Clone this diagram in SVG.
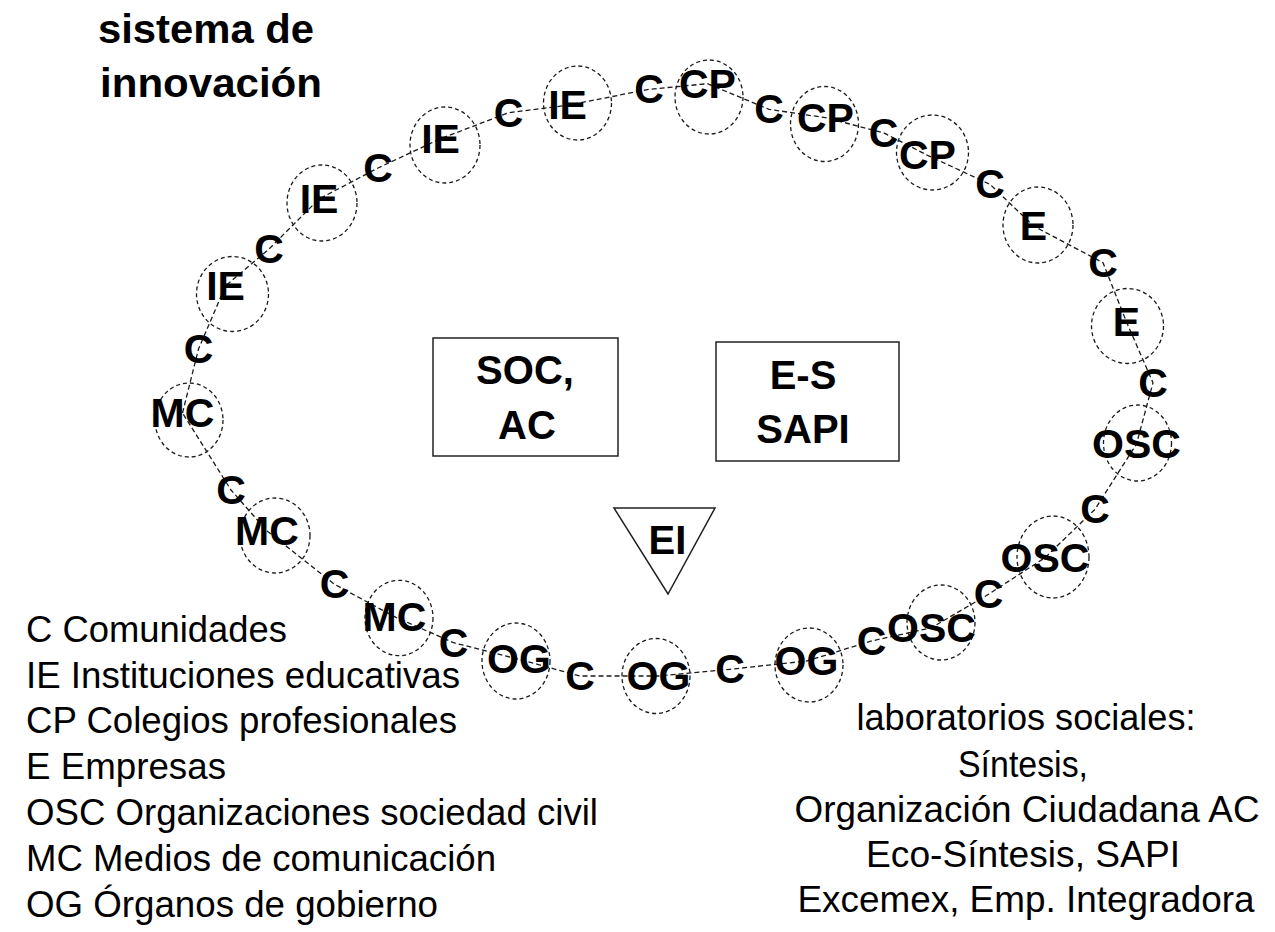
<svg xmlns="http://www.w3.org/2000/svg" width="1275" height="932" viewBox="0 0 1275 932">
<style>
.lbl{font-family:"Liberation Sans",Arial,sans-serif;font-weight:bold;font-size:41px;fill:#000;text-anchor:middle}
.blbl{font-family:"Liberation Sans",Arial,sans-serif;font-weight:bold;font-size:40px;fill:#000;text-anchor:middle}
.ring{fill:none;stroke:#1a1a1a;stroke-width:1.3;stroke-dasharray:4 3}
.chain{fill:none;stroke:#1a1a1a;stroke-width:1.3;stroke-dasharray:5 3}
.box{fill:#fff;stroke:#222;stroke-width:1.5}
.title{font-family:"Liberation Sans",Arial,sans-serif;font-weight:bold;font-size:40px;fill:#000}
.leg{font-family:"Liberation Sans",Arial,sans-serif;font-size:36px;fill:#000}
.labs{font-family:"Liberation Sans",Arial,sans-serif;font-size:36px;fill:#000;text-anchor:middle}
</style>
<rect width="1275" height="932" fill="#fff"/>
<g id="title">
<text class="title" x="98" y="43" textLength="216" lengthAdjust="spacingAndGlyphs">sistema de</text>
<text class="title" x="100" y="97" textLength="222" lengthAdjust="spacingAndGlyphs">innovación</text>
</g>
<g id="connectors">
<polyline class="chain" points="182.5,413 198.5,349 225.5,286 269,249 319,199 378,168 440.5,138.7 508.5,112.7 567.5,105.3 649,89.3 707.5,83.7 769,109.3 825.5,117.7 883.5,132.7 927.5,155.3 990,184.3 1033.5,226 1103,262.7 1126.5,322 1153,382.7 1136.5,444 1095,509.3 1045,557.7 988.5,594.3 931.5,627.7 871.5,641 806.5,661 730,669.3 658.5,676 580,676 519,659.3 453.5,642.7 394.5,616.7 334.5,584.3 267,531 231,490 182.5,413"/>
</g>
<g id="circles">
<ellipse class="ring" cx="189" cy="420" rx="34" ry="37"/>
<ellipse class="ring" cx="232.5" cy="294" rx="36" ry="37.5"/>
<ellipse class="ring" cx="322" cy="203" rx="35" ry="38"/>
<ellipse class="ring" cx="445" cy="145" rx="35" ry="38"/>
<ellipse class="ring" cx="577.5" cy="103" rx="34" ry="37"/>
<ellipse class="ring" cx="709" cy="97" rx="34" ry="37"/>
<ellipse class="ring" cx="824.5" cy="124" rx="34" ry="37.5"/>
<ellipse class="ring" cx="932.5" cy="152.5" rx="36" ry="37.5"/>
<ellipse class="ring" cx="1038" cy="225" rx="35" ry="38"/>
<ellipse class="ring" cx="1127.5" cy="326" rx="36" ry="37.5"/>
<ellipse class="ring" cx="1137.5" cy="443" rx="34" ry="38"/>
<ellipse class="ring" cx="1053" cy="557" rx="36" ry="41"/>
<ellipse class="ring" cx="941" cy="622.5" rx="34" ry="37.5"/>
<ellipse class="ring" cx="809" cy="665" rx="34" ry="37"/>
<ellipse class="ring" cx="656" cy="676" rx="34" ry="37.5"/>
<ellipse class="ring" cx="516" cy="661" rx="34" ry="38"/>
<ellipse class="ring" cx="399" cy="618" rx="34" ry="37.7"/>
<ellipse class="ring" cx="275" cy="535.5" rx="35" ry="37.5"/>
</g>
<g id="n-mc1"><text class="lbl" x="182.5" y="427">MC</text></g>
<g id="n-c1"><text class="lbl" x="198.5" y="363">C</text></g>
<g id="n-ie4"><text class="lbl" x="225.5" y="300">IE</text></g>
<g id="n-c2"><text class="lbl" x="269" y="263">C</text></g>
<g id="n-ie3"><text class="lbl" x="319" y="213">IE</text></g>
<g id="n-c3"><text class="lbl" x="378" y="182">C</text></g>
<g id="n-ie2"><text class="lbl" x="440.5" y="152.7">IE</text></g>
<g id="n-c4"><text class="lbl" x="508.5" y="126.7">C</text></g>
<g id="n-ie1"><text class="lbl" x="567.5" y="119.3">IE</text></g>
<g id="n-c5"><text class="lbl" x="649" y="103.3">C</text></g>
<g id="n-cp1"><text class="lbl" x="707.5" y="97.7">CP</text></g>
<g id="n-c6"><text class="lbl" x="769" y="123.3">C</text></g>
<g id="n-cp2"><text class="lbl" x="825.5" y="131.7">CP</text></g>
<g id="n-c7"><text class="lbl" x="883.5" y="146.7">C</text></g>
<g id="n-cp3"><text class="lbl" x="927.5" y="169.3">CP</text></g>
<g id="n-c8"><text class="lbl" x="990" y="198.3">C</text></g>
<g id="n-e1"><text class="lbl" x="1033.5" y="240">E</text></g>
<g id="n-c9"><text class="lbl" x="1103" y="276.7">C</text></g>
<g id="n-e2"><text class="lbl" x="1126.5" y="336">E</text></g>
<g id="n-c10"><text class="lbl" x="1153" y="396.7">C</text></g>
<g id="n-osc1"><text class="lbl" x="1136.5" y="458">OSC</text></g>
<g id="n-c11"><text class="lbl" x="1095" y="523.3">C</text></g>
<g id="n-osc2"><text class="lbl" x="1045" y="571.7">OSC</text></g>
<g id="n-c12"><text class="lbl" x="988.5" y="608.3">C</text></g>
<g id="n-osc3"><text class="lbl" x="931.5" y="641.7">OSC</text></g>
<g id="n-c13"><text class="lbl" x="871.5" y="655">C</text></g>
<g id="n-og3"><text class="lbl" x="806.5" y="675">OG</text></g>
<g id="n-c14"><text class="lbl" x="730" y="683.3">C</text></g>
<g id="n-og2"><text class="lbl" x="658.5" y="690">OG</text></g>
<g id="n-c15"><text class="lbl" x="580" y="690">C</text></g>
<g id="n-og1"><text class="lbl" x="519" y="673.3">OG</text></g>
<g id="n-c16"><text class="lbl" x="453.5" y="656.7">C</text></g>
<g id="n-mc3"><text class="lbl" x="394.5" y="630.7">MC</text></g>
<g id="n-c17"><text class="lbl" x="334.5" y="598.3">C</text></g>
<g id="n-mc2"><text class="lbl" x="267" y="545">MC</text></g>
<g id="n-c18"><text class="lbl" x="231" y="504">C</text></g>
<g id="n-soc">
<rect class="box" x="433" y="338" width="185" height="118"/>
<text class="blbl" x="525" y="383.5">SOC,</text>
<text class="blbl" x="527" y="439">AC</text>
</g>
<g id="n-es">
<rect class="box" x="716" y="342" width="183" height="119"/>
<text class="blbl" x="803" y="388.5">E-S</text>
<text class="blbl" x="803" y="442.5">SAPI</text>
</g>
<g id="n-ei">
<polygon class="box" points="614,508 715,508 668,594"/>
<text class="blbl" x="667.5" y="553.5">EI</text>
</g>
<g id="legend">
<text class="leg" x="26" y="642" textLength="261" lengthAdjust="spacingAndGlyphs">C Comunidades</text>
<text class="leg" x="26" y="688" textLength="434" lengthAdjust="spacingAndGlyphs">IE Instituciones educativas</text>
<text class="leg" x="26" y="733" textLength="431" lengthAdjust="spacingAndGlyphs">CP Colegios profesionales</text>
<text class="leg" x="26" y="779" textLength="200" lengthAdjust="spacingAndGlyphs">E Empresas</text>
<text class="leg" x="26" y="825" textLength="572" lengthAdjust="spacingAndGlyphs">OSC Organizaciones sociedad civil</text>
<text class="leg" x="26" y="871" textLength="470" lengthAdjust="spacingAndGlyphs">MC Medios de comunicación</text>
<text class="leg" x="26" y="917" textLength="412" lengthAdjust="spacingAndGlyphs">OG Órganos de gobierno</text>
</g>
<g id="labs">
<text class="labs" x="1026" y="730" textLength="339" lengthAdjust="spacingAndGlyphs">laboratorios sociales:</text>
<text class="labs" x="1023" y="776.7" textLength="130" lengthAdjust="spacingAndGlyphs">Síntesis,</text>
<text class="labs" x="1027" y="821.7" textLength="465" lengthAdjust="spacingAndGlyphs">Organización Ciudadana AC</text>
<text class="labs" x="1023" y="866.7" textLength="314" lengthAdjust="spacingAndGlyphs">Eco-Síntesis, SAPI</text>
<text class="labs" x="1026" y="911.7" textLength="457" lengthAdjust="spacingAndGlyphs">Excemex, Emp. Integradora</text>
</g>
</svg>
